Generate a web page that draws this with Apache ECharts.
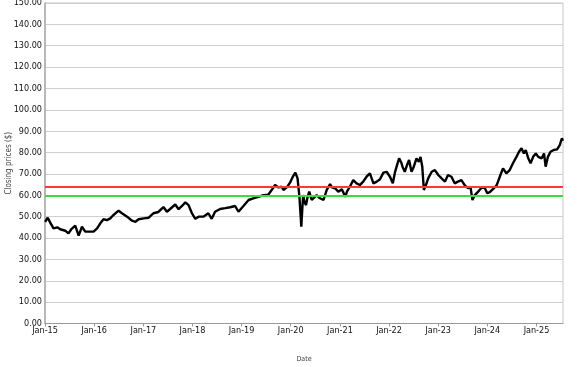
<!DOCTYPE html>
<html>
<head>
<meta charset="utf-8">
<script src="https://cdn.jsdelivr.net/npm/echarts@6/dist/echarts.min.js"></script>
<style>html,body{margin:0;padding:0;background:#fff}#c{width:577px;height:367px}</style>
</head>
<body>
<div id="c"></div>
<script>
const dates = ["2015-01-02","2015-01-21","2015-02-11","2015-03-05","2015-04-02","2015-04-24","2015-06-01","2015-06-25","2015-07-14","2015-08-14","2015-09-08","2015-10-03","2015-10-27","2015-11-21","2015-12-28",
"2016-01-23","2016-02-16","2016-03-11","2016-04-06","2016-04-30","2016-05-24","2016-07-01","2016-07-26","2016-09-02","2016-10-09","2016-11-03","2016-11-27",
"2017-01-04","2017-02-10","2017-03-17","2017-04-23","2017-05-30","2017-06-25","2017-07-19","2017-08-26","2017-09-20","2017-10-15","2017-11-09","2017-12-03","2017-12-28",
"2018-01-22","2018-02-16","2018-03-23","2018-04-29","2018-05-24","2018-06-18","2018-07-25","2018-09-01","2018-10-08","2018-11-14","2018-12-09",
"2019-01-15","2019-02-22","2019-03-29","2019-05-05","2019-06-12","2019-07-18","2019-08-13","2019-09-07","2019-10-02","2019-10-26","2019-11-08","2019-12-03","2019-12-27",
"2020-01-17","2020-02-05","2020-02-21","2020-03-06","2020-03-20","2020-03-27","2020-04-03","2020-04-12","2020-04-24","2020-05-06","2020-05-18","2020-06-05","2020-06-17","2020-07-12","2020-08-06","2020-09-01","2020-09-25","2020-10-20","2020-11-02","2020-11-26","2020-12-20",
"2021-01-15","2021-02-10","2021-02-22","2021-03-16","2021-04-10","2021-05-05","2021-05-29","2021-06-23","2021-07-18","2021-08-12","2021-09-07","2021-10-02","2021-10-26","2021-11-20","2021-12-14",
"2022-01-08","2022-01-29","2022-02-15","2022-03-02","2022-03-17","2022-04-04","2022-04-11","2022-04-28","2022-05-15","2022-05-30","2022-06-17","2022-07-04","2022-07-24","2022-08-11","2022-08-23","2022-09-05","2022-09-17","2022-10-02","2022-10-19","2022-11-14","2022-12-08",
"2023-01-02","2023-01-27","2023-02-21","2023-03-15","2023-04-10","2023-05-04","2023-05-28","2023-06-23","2023-07-17","2023-08-11","2023-08-29","2023-09-13","2023-10-01","2023-10-25","2023-11-19","2023-12-13",
"2024-01-01","2024-01-20","2024-02-14","2024-03-09","2024-03-21","2024-04-08","2024-04-27","2024-05-22","2024-06-16","2024-07-10","2024-08-05","2024-08-24","2024-09-12","2024-09-29","2024-10-13","2024-11-01","2024-11-18","2024-12-07","2024-12-27",
"2025-01-14","2025-02-09","2025-02-26","2025-03-10","2025-03-27","2025-04-15","2025-05-09","2025-06-03","2025-06-23","2025-07-09","2025-07-16"];
const prices = [47.6,49.5,47.0,44.5,45.0,44.1,43.4,42.2,44.0,45.8,41.1,45.3,43.0,43.0,43.0,
44.5,46.9,48.8,48.4,49.2,50.8,52.8,51.6,50.0,48.1,47.6,48.8,
49.2,49.5,51.6,52.2,54.5,52.3,53.6,55.7,53.5,55.0,56.7,55.4,51.6,
49.0,50.0,50.0,51.6,49.0,52.3,53.6,54.0,54.4,55.0,52.3,
55.0,57.8,58.6,59.3,60.1,60.3,62.5,64.8,63.7,64.0,62.5,63.7,65.9,
68.7,70.6,67.9,59.3,45.3,53.1,60.1,57.0,55.4,59.3,61.7,57.8,57.0,60.1,58.6,57.8,62.5,65.3,63.7,63.3,61.7,
62.8,59.3,61.7,64.0,67.1,65.6,64.8,66.4,68.7,70.3,65.6,66.4,67.5,70.6,71.0,
68.7,65.6,71.0,74.2,77.3,75.0,73.4,71.0,74.2,76.5,71.0,73.4,77.3,75.7,78.0,73.4,62.5,64.8,67.9,71.0,71.8,
69.5,67.9,66.4,69.5,68.7,65.6,66.4,67.1,64.8,63.3,64.0,57.8,60.1,61.7,63.5,63.5,
61.0,61.5,63.0,64.5,66.4,69.5,72.6,70.3,71.8,75.0,78.0,80.4,82.0,79.6,81.2,77.3,75.0,78.0,79.6,
78.0,77.3,79.6,73.4,78.0,80.4,81.2,81.5,83.5,86.7,85.5];
const upperLevel = 64.0;
const lowerLevel = 59.8;
const yMin = 0, yMax = 150, yStep = 10;
const xStart = "2015-01-01", xEnd = "2025-07-17";

const chart = echarts.init(document.getElementById('c'), null, {renderer:'canvas'});
const font = "'DejaVu Sans Condensed','DejaVu Sans',sans-serif";
chart.setOption({
  useUTC: true,
  animation: false,
  backgroundColor: '#fff',
  grid: {left: 45, right: 14, top: 3, bottom: 43.5, containLabel: false, outerBoundsMode: 'none',
    show: true, borderColor: '#c8c8c8', borderWidth: 1, backgroundColor: 'transparent'},
  xAxis: {
    type: 'time',
    min: xStart, max: xEnd,
    minInterval: 365*24*3600*1000, maxInterval: 366*24*3600*1000,
    name: 'Date', nameLocation: 'middle', nameGap: 32, nameMoveOverlap: false,
    nameTextStyle: {fontFamily: font, fontSize: 7, color: '#444'},
    axisLine: {lineStyle: {color: '#999'}},
    axisTick: {show: true, length: 3, lineStyle: {color: '#999'}},
    splitLine: {show: false},
    axisLabel: {fontFamily: font, fontSize: 9, color: '#111', margin: 3, hideOverlap: false,
      formatter: function(v){ const d = new Date(v); return 'Jan-' + String(d.getUTCFullYear()).slice(2); }}
  },
  yAxis: {
    type: 'value', min: yMin, max: yMax, interval: yStep,
    name: 'Closing prices ($)', nameLocation: 'middle', nameGap: 32, nameMoveOverlap: false,
    nameTextStyle: {fontFamily: font, fontSize: 8, color: '#444'},
    axisLine: {show: true, lineStyle: {color: '#aaa', width: 1.5}},
    axisTick: {show: false},
    splitLine: {lineStyle: {color: '#cfcfcf', width: 1.2}},
    axisLabel: {fontFamily: font, fontSize: 9, color: '#111', margin: 3,
      formatter: function(v){ return v.toFixed(2); }}
  },
  series: [{
    type: 'line',
    data: dates.map((d,i) => [d, prices[i]]),
    showSymbol: false,
    lineStyle: {color: '#000', width: 2.4},
    z: 3,
    markLine: {
      silent: true, symbol: ['none','none'], label: {show: false},
      data: [
        {yAxis: upperLevel, lineStyle: {color: '#f03c3c', width: 2, type: 'solid'}},
        {yAxis: lowerLevel, lineStyle: {color: '#3ddc3d', width: 2, type: 'solid'}}
      ]
    }
  }]
});
</script>
</body>
</html>
